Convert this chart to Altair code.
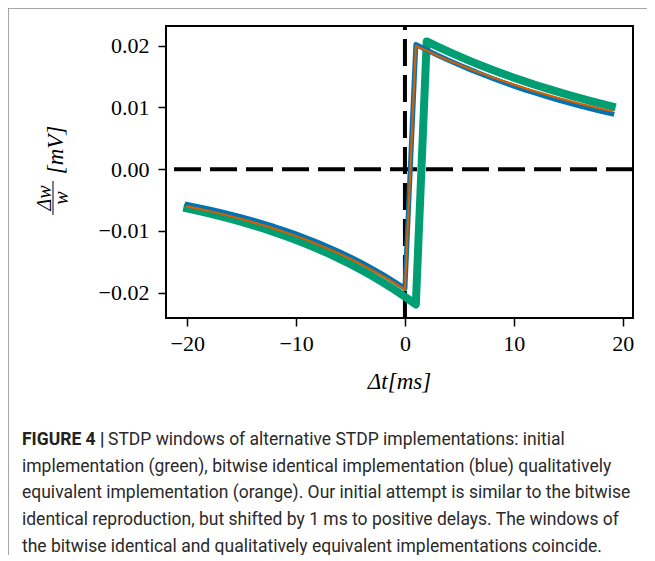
import altair as alt
import pandas as pd

# ---- data ----
x_values = list(range(-20, 20))

blue_y = [-0.00570, -0.00606, -0.00644, -0.00684, -0.00727, -0.00773, -0.00822,
          -0.00874, -0.00928, -0.00987, -0.01049, -0.01115, -0.01185, -0.01259,
          -0.01339, -0.01423, -0.01512, -0.01607, -0.01708, -0.01816, -0.01930,
          0.02020, 0.01931, 0.01846, 0.01765, 0.01687, 0.01613, 0.01542, 0.01474,
          0.01409, 0.01347, 0.01287, 0.01231, 0.01176, 0.01125, 0.01075, 0.01028,
          0.00982, 0.00939, 0.00898]

orange_y = [-0.00601, -0.00638, -0.00676, -0.00717, -0.00761, -0.00807, -0.00856,
            -0.00908, -0.00963, -0.01021, -0.01083, -0.01148, -0.01218, -0.01292,
            -0.01370, -0.01453, -0.01541, -0.01635, -0.01734, -0.01839, -0.01950,
            0.02000, 0.01918, 0.01839, 0.01763, 0.01691, 0.01621, 0.01554, 0.01490,
            0.01429, 0.01370, 0.01314, 0.01260, 0.01208, 0.01158, 0.01111, 0.01065,
            0.01021, 0.00979, 0.00939]

green_y = [-0.00637, -0.00675, -0.00716, -0.00760, -0.00806, -0.00854, -0.00906,
           -0.00961, -0.01019, -0.01081, -0.01147, -0.01216, -0.01290, -0.01368,
           -0.01451, -0.01539, -0.01632, -0.01731, -0.01836, -0.01947, -0.02065,
           -0.02190, 0.02070, 0.01986, 0.01904, 0.01827, 0.01752, 0.01681, 0.01612,
           0.01546, 0.01483, 0.01423, 0.01365, 0.01309, 0.01256, 0.01204, 0.01155,
           0.01108, 0.01063, 0.01019]

x_ticks = [-20, -10, 0, 10, 20]
y_ticks = [-0.02, -0.01, 0.0, 0.01, 0.02]
zero_line = [0]

caption_bold = "FIGURE 4 |"
caption_lines = [
    "STDP windows of alternative STDP implementations: initial",
    "implementation (green), bitwise identical implementation (blue) qualitatively",
    "equivalent implementation (orange). Our initial attempt is similar to the bitwise",
    "identical reproduction, but shifted by 1 ms to positive delays. The windows of",
    "the bitwise identical and qualitatively equivalent implementations coincide.",
]

# ---- layout / style ----
W, H = 467, 292
PAD_L, PAD_T, PAD_R, PAD_B = 158, 18, 14, 237
SERIF = "Liberation Serif"
SANS = "Roboto"
CAP_SIZE = 17.5

xs = alt.Scale(domain=[-21.95, 20.95], nice=False, zero=False)
ys = alt.Scale(domain=[-0.0241, 0.0232], nice=False, zero=False)

xaxis = alt.Axis(values=x_ticks, format="d", title=None, grid=False, domain=False,
                 tickSize=8, tickWidth=1.5, tickColor="black",
                 labelFont=SERIF, labelFontSize=22, labelColor="black", labelPadding=7)
yaxis = alt.Axis(values=y_ticks, format=".2f", title=None, grid=False, domain=False,
                 tickSize=8, tickWidth=1.5, tickColor="black",
                 labelFont=SERIF, labelFontSize=22, labelColor="black", labelPadding=9)


def curve(vals, color, width):
    df = pd.DataFrame({"x": x_values, "y": vals})
    return alt.Chart(df).mark_line(
        color=color, strokeWidth=width, strokeJoin="round", strokeCap="square"
    ).encode(
        x=alt.X("x:Q", scale=xs, axis=xaxis),
        y=alt.Y("y:Q", scale=ys, axis=yaxis),
    )


zdf = pd.DataFrame({"v": zero_line})
hline = alt.Chart(zdf).mark_rule(color="black", strokeWidth=4, strokeDash=[27, 9]).encode(
    y=alt.Y("v:Q", scale=ys, axis=yaxis)
)
vline = alt.Chart(zdf).mark_rule(color="black", strokeWidth=4, strokeDash=[27, 9]).encode(
    x=alt.X("v:Q", scale=xs, axis=xaxis), y=alt.value(H), y2=alt.value(0)
)

one = pd.DataFrame({"k": [0]})


def label(text, x, y, size, font=SERIF, style="normal", angle=0, align="center",
          baseline="middle", weight="normal", color="black"):
    return alt.Chart(one).mark_text(
        text=text, font=font, fontSize=size, fontStyle=style, angle=angle,
        align=align, baseline=baseline, fontWeight=weight, color=color
    ).encode(x=alt.value(x), y=alt.value(y))


layers = [
    hline, vline,
    curve(green_y, "#029e73", 8),
    curve(blue_y, "#0173b2", 5),
    curve(orange_y, "#d55e00", 2.2),
    # x title
    label("Δt[ms]", W / 2, 363, 23, style="italic", baseline="alphabetic"),
    # y title as fraction
    label("Δw", -121, 172, 20, style="italic", angle=270),
    label("w", -104, 172, 20, style="italic", angle=270),
    alt.Chart(one).mark_rule(color="black", strokeWidth=1).encode(
        x=alt.value(-113), y=alt.value(155), y2=alt.value(189)),
    label("[mV]", -110, 124, 23, style="italic", angle=270),
    # outer figure frame (top and left)
    alt.Chart(one).mark_rule(color="#8a8a8a", strokeWidth=1.5).encode(
        x=alt.value(-PAD_L), y=alt.value(-PAD_T), y2=alt.value(H + PAD_B)),
    alt.Chart(one).mark_rule(color="#8a8a8a", strokeWidth=1.5).encode(
        x=alt.value(-PAD_L), x2=alt.value(W + PAD_R), y=alt.value(-PAD_T)),
    # caption
    label(caption_bold, -144, 419, CAP_SIZE, font=SANS, align="left", baseline="alphabetic",
          weight="bold", color="#222222"),
]

cap_x = [-58, -144, -144, -144, -144]
for i, line in enumerate(caption_lines):
    layers.append(label(line, cap_x[i], 419 + 26.7 * i, CAP_SIZE, font=SANS, align="left",
                        baseline="alphabetic", color="#2a2a2a"))

chart = alt.layer(*layers).properties(
    width=W, height=H,
    padding={"left": PAD_L, "top": PAD_T, "right": PAD_R, "bottom": PAD_B},
    autosize=alt.AutoSizeParams(type="none"),
).configure_view(stroke="black", strokeWidth=2)

chart.save("out.html", embed_options={"renderer": "svg", "actions": False})
